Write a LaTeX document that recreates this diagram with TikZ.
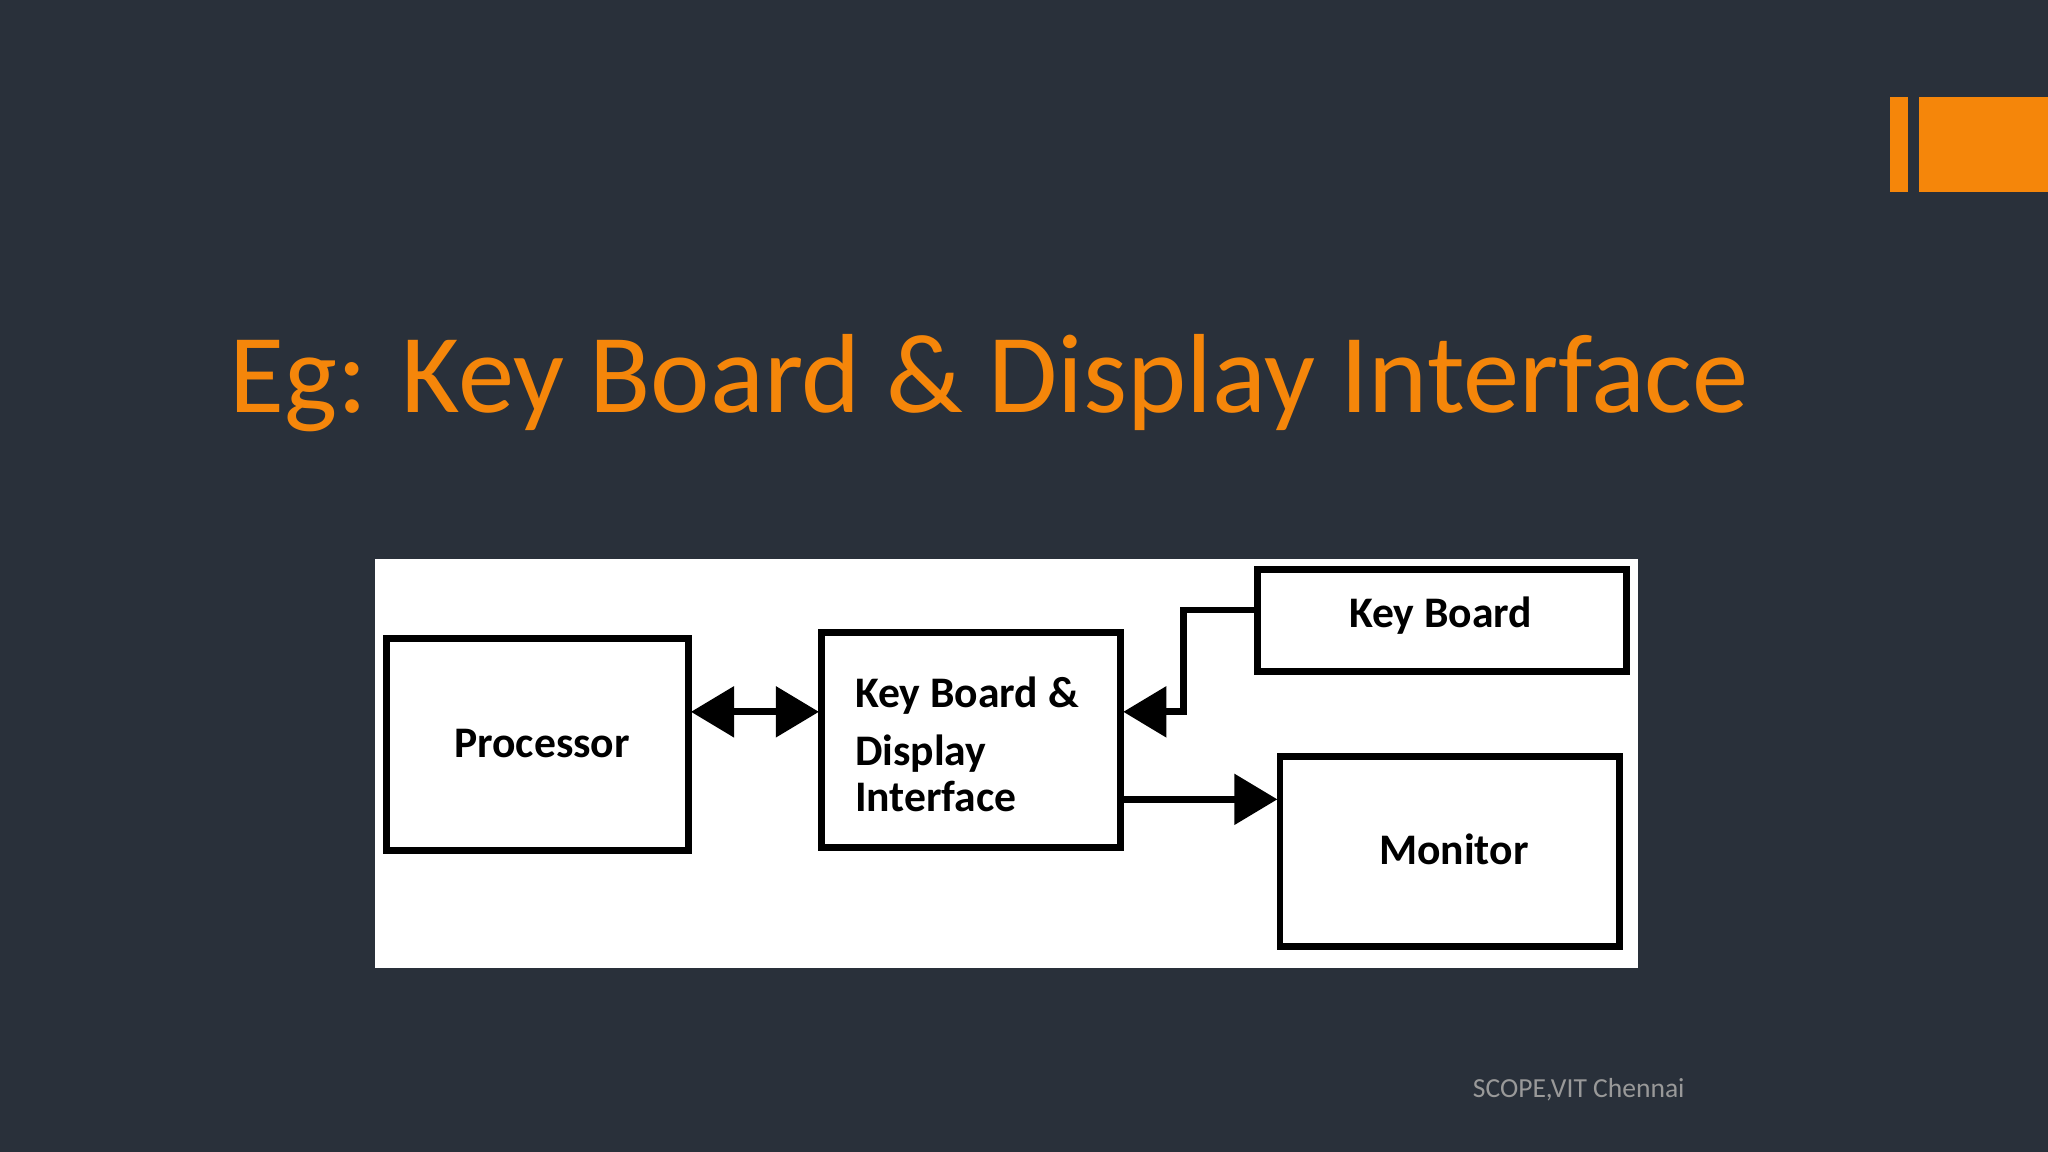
\documentclass[tikz,border=0pt]{standalone}
\usepackage{fontspec}
\setmainfont{Carlito}
\usetikzlibrary{arrows.meta}
\definecolor{bg}{HTML}{29303A}
\definecolor{org}{HTML}{F5860A}
\begin{document}
\begin{tikzpicture}[x=0.01cm,y=-0.01cm,
  blk/.style={draw=black,line width=1.5pt,fill=white,inner sep=0pt},
  lbl/.style={font=\fontsize{9.5pt}{11.5pt}\selectfont\bfseries,text=black},
  conn/.style={line width=1.5pt,draw=black},
  tip/.style={-{Triangle[length=0.33cm,width=0.38cm]}}]
\fill[bg] (0,0) rectangle (1568,882);
\useasboundingbox (0,0) rectangle (1568,882);
\fill[org] (1447,74) rectangle (1461,147);
\fill[org] (1469,74) rectangle (1568,147);
\node[anchor=base west,text=org,font=\fontsize{24.5pt}{30pt}\selectfont,inner sep=0] (title) at (175,316) {Eg: Key Board \& Display Interface};
\fill[white] (287,428) rectangle (1254,741);
\draw[blk] (296,489) rectangle (527,651);
\node[lbl] (proc) at (415,569) {Processor};
\draw[blk] (629,484) rectangle (858,649);
\node[lbl,anchor=west,align=left,inner sep=0] (kbd) at (654,570) {Key Board \&\\[1pt]Display\\[-1.5pt]Interface};
\draw[blk] (963,436) rectangle (1245,514);
\node[lbl] (kb) at (1103,471) {Key Board};
\draw[blk] (980,579) rectangle (1240,725);
\node[lbl] (mon) at (1113,650) {Monitor};
\coordinate (p) at (529,545); \coordinate (k) at (627,545);
\draw[conn,{Triangle[length=0.33cm,width=0.38cm]}-{Triangle[length=0.33cm,width=0.38cm]}] (p) -- (k);
\coordinate (kbl) at (962,467); \coordinate (kin) at (860,545);
\draw[conn,tip] (kbl) -- (906,467) -- (906,545) -- (kin);
\coordinate (mo) at (860,612); \coordinate (mi) at (978,612);
\draw[conn,tip] (mo) -- (mi);
\node[anchor=base west,text=gray!80,font=\fontsize{6pt}{7pt}\selectfont,inner sep=0] (foot) at (1127,840) {SCOPE,VIT Chennai};
\end{tikzpicture}
\end{document}
